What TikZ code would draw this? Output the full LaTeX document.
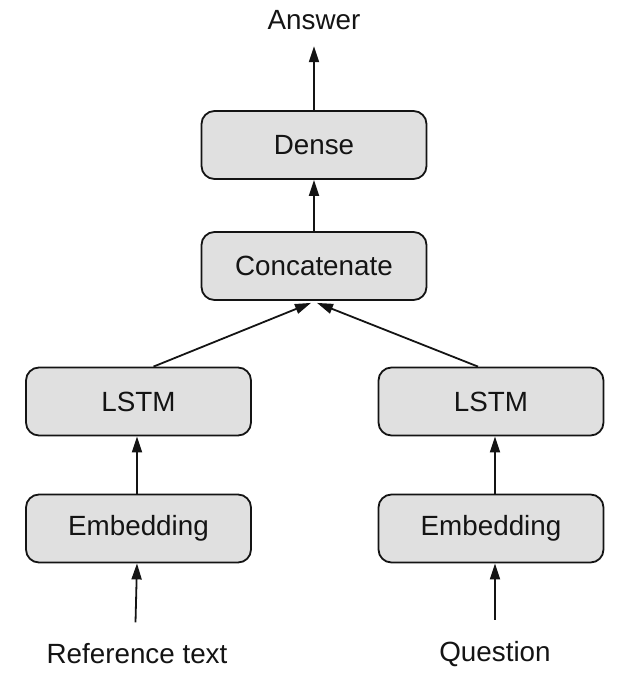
\documentclass[tikz,border=0pt]{standalone}
\usepackage{fontspec}
\setmainfont{Liberation Sans}
\usetikzlibrary{arrows.meta}
\definecolor{boxfill}{RGB}{224,224,224}
\definecolor{ink}{RGB}{20,20,20}
\begin{document}
\begin{tikzpicture}[x=0.5pt,y=-0.5pt,
  font=\fontsize{13.9pt}{16pt}\selectfont,
  layer/.style={draw=ink, line width=0.9pt, fill=boxfill, rounded corners=6.5pt,
    minimum width=112.5pt, minimum height=34pt, inner sep=0pt, text=ink},
  label/.style={inner sep=0pt, text=ink},
  flow/.style={draw=ink, line width=0.9pt, -{Triangle[length=8pt,width=5pt]}}]
\useasboundingbox (0,0) rectangle (624,676);

% layers
\node[layer] (dense)  at (314,145)     {Dense};
\node[layer] (concat) at (314,266)     {Concatenate};
\node[layer] (lstmL)  at (138.5,401.5) {LSTM};
\node[layer] (lstmR)  at (491,401.5)   {LSTM};
\node[layer] (embL)   at (138.5,528.5) {Embedding};
\node[layer] (embR)   at (491,528.5)   {Embedding};

% inputs and output
\node[label] (answer) at (314,20)  {Answer};
\node[label] (ref)    at (137,654) {Reference text};
\node[label] (quest)  at (495,654) {Question};

% connections
\draw[flow] ([xshift=-0.75pt,yshift=10.5pt]ref.north) -- ([xshift=-0.75pt]embL.south);
\draw[flow] ([yshift=10.5pt]quest.north) -- ([xshift=2pt]embR.south);
\draw[flow] ([xshift=-0.75pt]embL.north) -- ([xshift=-0.75pt]lstmL.south);
\draw[flow] ([xshift=2pt]embR.north) -- ([xshift=2pt]lstmR.south);
\draw[flow] ([xshift=7.5pt]lstmL.north) -- ([xshift=-1.5pt,yshift=-1pt]concat.south);
\draw[flow] ([xshift=-6.5pt]lstmR.north) -- ([xshift=1.5pt,yshift=-1pt]concat.south);
\draw[flow] (concat.north) -- (dense.south);
\draw[flow, shorten >=8pt] (dense.north) -- (answer.south);
\end{tikzpicture}
\end{document}
